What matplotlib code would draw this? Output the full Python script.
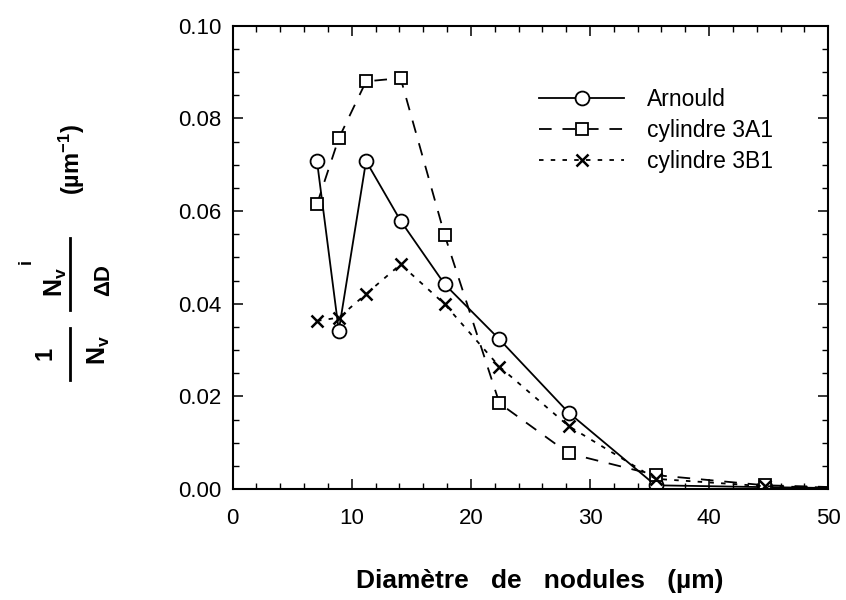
import matplotlib
matplotlib.use("Agg")
import matplotlib.pyplot as plt
from matplotlib.lines import Line2D
from matplotlib.ticker import MultipleLocator

plt.rcParams['font.family'] = ['Liberation Sans', 'DejaVu Sans']
plt.rcParams['mathtext.fontset'] = 'custom'
plt.rcParams['mathtext.rm'] = 'Liberation Sans:bold'
plt.rcParams['mathtext.it'] = 'Liberation Sans:bold'
plt.rcParams['mathtext.bf'] = 'Liberation Sans:bold'

# diametres des classes (um)
diam = [7.08, 8.91, 11.2, 14.1, 17.8, 22.4, 28.2, 35.5, 44.7, 56.2]

arnould = [0.0708, 0.0342, 0.0708, 0.0579, 0.0442, 0.0323, 0.0165, 0.0008, 0.0004, 0.0]
cyl_3a1 = [0.0615, 0.0757, 0.0880, 0.0887, 0.0548, 0.0185, 0.0077, 0.0030, 0.0008, 0.0]
cyl_3b1 = [0.0363, 0.0370, 0.0421, 0.0485, 0.0399, 0.0264, 0.0136, 0.0022, 0.0006, 0.0]

labels = ['Arnould', 'cylindre 3A1', 'cylindre 3B1']

W, H = 846, 600
fig = plt.figure(figsize=(W / 100, H / 100), dpi=100)
ax = fig.add_axes([0.275, 0.185, 0.704, 0.772])

ax.plot(diam, arnould, color='black', lw=1.3, ls='-', marker='o', ms=10,
        mfc='white', mec='black', mew=1.3, label=labels[0])
ax.plot(diam, cyl_3a1, color='black', lw=1.3, ls=(0, (7, 6)), marker='s', ms=8.5,
        mfc='white', mec='black', mew=1.3, label=labels[1])
ax.plot(diam, cyl_3b1, color='black', lw=1.3, ls=(0, (2.5, 4)), marker='x', ms=9,
        mec='black', mew=1.8, label=labels[2])

ax.set_xlim(0, 50)
ax.set_ylim(0, 0.10)
ax.xaxis.set_major_locator(MultipleLocator(10))
ax.xaxis.set_minor_locator(MultipleLocator(2))
ax.yaxis.set_major_locator(MultipleLocator(0.02))
ax.yaxis.set_minor_locator(MultipleLocator(0.005))
ax.yaxis.set_major_formatter(matplotlib.ticker.FormatStrFormatter('%.2f'))

ax.tick_params(which='both', direction='in', top=True, right=True, labelsize=16)
ax.tick_params(which='major', length=7, width=1.1)
ax.tick_params(which='minor', length=4, width=1.0)
ax.tick_params(axis='x', which='major', pad=14)
ax.tick_params(axis='y', which='major', pad=8)
for sp in ax.spines.values():
    sp.set_linewidth(1.5)

ax.set_xlabel('Diamètre   de   nodules   (µm)', fontsize=19, fontweight='bold')
ax.xaxis.set_label_coords(0.516, -0.172)


# titre de l'axe y : (1/Nv) (Nv^i / dD) (um^-1), construit morceau par morceau
def ytxt(px, py, s, size):
    fig.text(px / W, 1 - py / H, s, rotation=90, ha='center', va='center',
             fontsize=size, fontweight='bold')


def ybar(px, py0, py1):
    fig.add_artist(Line2D([px / W, px / W], [1 - py0 / H, 1 - py1 / H],
                          transform=fig.transFigure, color='black', lw=2.0))


ytxt(45, 353, '1', 17)
ybar(70, 328, 380)
ytxt(99, 350, r'$N_v$', 18)
ytxt(56, 282, r'$N_v$', 18)
ytxt(26, 262, 'i', 13)
ybar(70, 238, 310)
ytxt(104, 280, 'ΔD', 16)
ytxt(72, 160, r'(µm$^{-1}$)', 17)

leg = ax.legend(loc='upper left', bbox_to_anchor=(0.515, 0.866), borderaxespad=0,
                borderpad=0, frameon=False, fontsize=16.5, handlelength=3.7,
                numpoints=1, labelspacing=0.35, handletextpad=1.0)

fig.savefig('out.png', dpi=100)
